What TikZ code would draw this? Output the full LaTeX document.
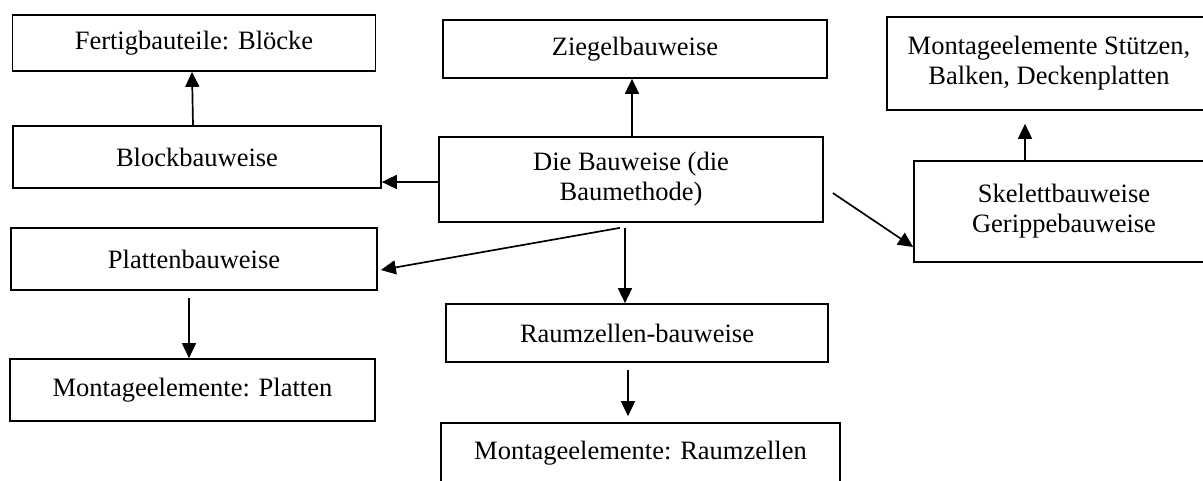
\documentclass[tikz,border=0pt]{standalone}
\usepackage{fontspec}
\setmainfont{Liberation Serif}
\usetikzlibrary{
	arrows.meta,
	calc,
	positioning
}

\begin{document}
\begin{tikzpicture}
	[x=1pt, y=-1pt, >={Triangle[length=15pt,width=14pt]},
	 Box/.style={draw, line width=1.7pt, rectangle, inner sep=0pt, align=center,
		font=\fontsize{26.5pt}{30pt}\selectfont}]

	\useasboundingbox (0,0) rectangle (1203,480);

	% boxes
	\begin{scope}
		% centre
		\node[Box, minimum width=384pt, minimum height=85pt] (bauweise) at (631,179.5) {Die Bauweise (die\\Baumethode)};

		% left column
		\node[Box, minimum width=363pt, minimum height=56pt] (fertig) at (194,43) {Fertigbauteile: Blöcke};
		\node[Box, minimum width=368pt, minimum height=62pt] (block) at (197,157) {Blockbauweise};
		\node[Box, minimum width=366pt, minimum height=62pt] (platten) at (194,259) {Plattenbauweise};
		\node[Box, minimum width=365pt, minimum height=62pt] (mplatten) at (192.5,390) {Montageelemente: Platten};

		% middle column
		\node[Box, minimum width=384pt, minimum height=58pt] (ziegel) at (635,49) {Ziegelbauweise};
		\node[Box, minimum width=382pt, minimum height=58pt] (raumzellen) at (637,333) {Raumzellen-bauweise};
		\node[Box, minimum width=399pt, minimum height=60pt] (mraumzellen) at (640.5,453) {Montageelemente: Raumzellen};

		% right column
		\node[Box, minimum width=324pt, minimum height=93pt] (stuetzen) at (1049,63.5) {Montageelemente Stützen,\\Balken, Deckenplatten};
		\node[Box, minimum width=300pt, minimum height=101pt] (skelett) at (1064,211.5) {Skelettbauweise\\Gerippebauweise};
	\end{scope}

	% arrows
	\begin{scope}[->, line width=1.7pt]
		\coordinate (bwW) at ([yshift=-2.5pt]bauweise.west);
		\coordinate (bwN) at ([xshift=1pt]bauweise.north);
		\coordinate (bwS) at ([shift={(-11pt,-5pt)}]bauweise.south);
		\coordinate (bwD) at ([shift={(-6pt,-5pt)}]bauweise.south);
		\coordinate (rzS) at ([shift={(-9pt,-7pt)}]raumzellen.south);
		\coordinate (plS) at ([shift={(-5pt,-7pt)}]platten.south);
		\coordinate (skN) at ([xshift=-39pt]skelett.north);

		\draw (bwW) -- (bwW -| block.east);
		\draw (bwN) -- (bwN |- ziegel.south);
		\draw (bwS) -- ([shift={(3pt,-11pt)}]platten.east);
		\draw (bwD) -- (bwD |- raumzellen.north);
		\draw ([shift={(9pt,-13.5pt)}]bauweise.east) -- ([yshift=-35.5pt]skelett.west);

		\draw ([xshift=-4pt]block.north) -- ([xshift=-2pt]fertig.south);
		\draw (plS) -- (plS |- mplatten.north);
		\draw (rzS) -- ($(rzS |- mraumzellen.north)+(0,-6)$);
		\draw (skN) -- ($(skN |- stuetzen.south)+(0,13)$);
	\end{scope}

\end{tikzpicture}
\end{document}
